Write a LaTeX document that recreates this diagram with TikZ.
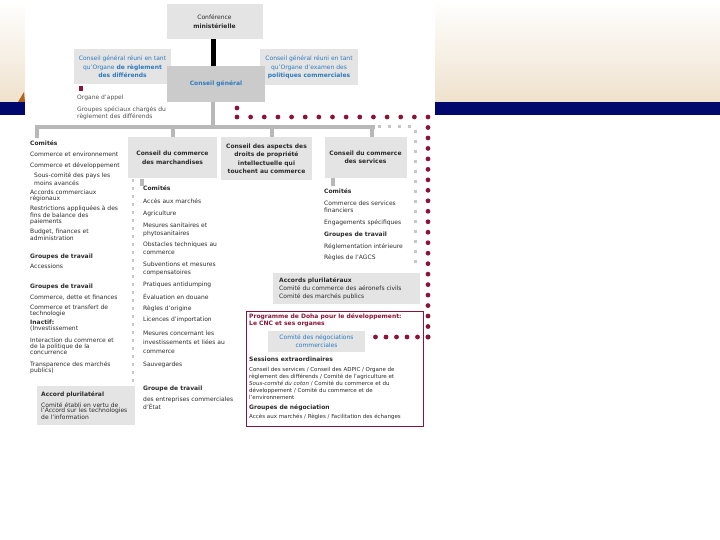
\documentclass[tikz,border=0pt]{standalone}
\usepackage{fontspec}
\setmainfont{DejaVu Sans}
\definecolor{dred}{HTML}{8A1538}
\definecolor{wblue}{HTML}{2E7BBF}
\definecolor{txt}{HTML}{2B2B2B}
\definecolor{gtxt}{HTML}{505050}
\definecolor{gbox}{HTML}{E4E4E4}
\definecolor{gbox2}{HTML}{CBCBCB}
\definecolor{gline}{HTML}{B8B8B8}
\definecolor{gsq}{HTML}{C6C6C6}
\definecolor{navyband}{HTML}{00086E}
\definecolor{beige}{HTML}{EFE2CD}
\definecolor{ochre}{HTML}{B0641E}
\newcommand\ft{\fontsize{6}{6.5}\selectfont}
\newcommand\ftl{\fontsize{6}{5.8}\selectfont}
\newcommand\ftm{\fontsize{6}{7.5}\selectfont}
\newcommand\fts{\fontsize{5.5}{7}\selectfont}
\tikzset{
  box/.style={fill=gbox, inner sep=0pt, align=center, text=txt, font=\ft},
  lst/.style={anchor=north west, inner sep=0pt, align=left, text=txt, font=\ft},
  lstl/.style={lst, font=\ftl},
  lstm/.style={lst, font=\ftm},
  hd/.style={lst, font=\ft\bfseries},
  gtree/.style={draw=gline, line width=3.2pt},
  gsqline/.style={draw=gsq, line width=3pt, dash pattern=on 3pt off 7pt},
  gsqmid/.style={draw=gsq, line width=2.8pt, dash pattern=on 2.8pt off 5.2pt},
  rdots/.style={draw=dred, line width=4.8pt, line cap=round}
}
\begin{document}
\begin{tikzpicture}[x=1pt,y=-1pt]
\useasboundingbox (0,0) rectangle (720,540);
% slide background
\shade[top color=white, bottom color=beige] (0,0) rectangle (25,102);
\shade[top color=white, bottom color=beige] (435,0) rectangle (720,102);
\fill[navyband] (0,102) rectangle (25,115);
\fill[navyband] (435,102) rectangle (720,115);
\fill[ochre] (18,102) -- (24,92) -- (25,102) -- cycle;

% top level
\node[box, minimum width=96, minimum height=35] (conf) at (214.5,21.5) {Conférence\\[3pt]\textbf{ministérielle}};
\node[box, minimum width=97, minimum height=35, text=wblue] (osd) at (122.5,66.5) {Conseil général réuni en tant\\[2pt]qu'Organe \textbf{de règlement}\\[1.5pt]\textbf{des différends}};
\node[box, minimum width=98, minimum height=36, text=wblue] (opr) at (309,67) {Conseil général réuni en tant\\[2pt]qu'Organe d'examen des\\[1.5pt]\textbf{politiques commerciales}};
\node[box, fill=gbox2, minimum width=98, minimum height=36, text=wblue, font=\ft\bfseries] (cg) at (216,84) {Conseil général};
\draw[black, line width=5pt] (conf.south -| 213.5,0) -- (cg.north -| 213.5,0);

% dispute settlement
\fill[dred] (79,86) rectangle (83,91);
\node[lst, text=gtxt] (oap) at (77,95) {Organe d'appel};
\node[lst, text=gtxt] (gsp) at (77,107) {Groupes spéciaux chargés du\\règlement des différends};

% grey tree
\coordinate (j0) at (213,127);
\coordinate (bL) at (37,127);
\coordinate (dM) at (173,127);
\coordinate (dA) at (272,127);
\coordinate (dS) at (372,127);
\coordinate (bE) at (375,127);

\node[box, minimum width=89, minimum height=41, font=\ft\bfseries] (march) at (172.5,158) {Conseil du commerce\\[2pt]des marchandises};
\node[box, minimum width=91, minimum height=43, font=\ft\bfseries] (adpic) at (266.5,159) {Conseil des aspects des\\[2pt]droits de propriété\\[2pt]intellectuelle qui\\[2pt]touchent au commerce};
\node[box, minimum width=82, minimum height=41, font=\ft\bfseries] (serv) at (365.5,157.5) {Conseil du commerce\\[2pt]des services};

\draw[gtree] (cg.south -| j0) -- (j0);
\draw[gtree] (37,138) -- (bL) -- (bE);
\draw[gtree] (dM) -- (dM |- march.north);
\draw[gtree] (dA) -- (dA |- adpic.north);
\draw[gtree] (dS) -- (dS |- serv.north);
\draw[gtree] ([xshift=-30.5pt]march.south) -- ++(0,7);
\draw[gtree] ([xshift=-32.5pt]serv.south) -- ++(0,8);
\draw[gsqline] (378,127) -- (415,127) -- (415,270);
\draw[gsqmid] (133,179) -- (133,395);

% left column
\node[hd] (lcom) at (30,141) {Comités};
\node[lst] (l1) at (30,152) {Commerce et environnement};
\node[lst] (l2) at (30,163) {Commerce et développement};
\node[lstl] (l3) at (34,173) {Sous-comité des pays les\\moins avancés};
\node[lstl] (l4) at (30,190) {Accords commerciaux\\régionaux};
\node[lstl] (l5) at (30,206) {Restrictions appliquées à des\\fins de balance des\\paiements};
\node[lstl] (l6) at (30,229) {Budget, finances et\\administration};
\node[hd] (lgt1) at (30,254) {Groupes de travail};
\node[lst] (l7) at (30,264) {Accessions};
\node[hd] (lgt2) at (30,284) {Groupes de travail};
\node[lst] (l8) at (30,295) {Commerce, dette et finances};
\node[lstl] (l9) at (30,305) {Commerce et transfert de\\technologie};
\node[lstl] (l10) at (30,320) {\textbf{Inactif:}\\(Investissement};
\node[lstl] (l11) at (30,338) {Interaction du commerce et\\de la politique de la\\concurrence};
\node[lstl] (l12) at (30,361) {Transparence des marchés\\publics)};
\node[box, anchor=north west, align=left, text width=90, inner xsep=4pt, inner ysep=3pt, minimum height=39, font=\ftl] (apl) at (37,386) {\textbf{Accord plurilatéral}\\[3.5pt]Comité établi en vertu de\\l'Accord sur les technologies\\de l'information};

% middle column
\node[hd] (mcom) at (143,186) {Comités};
\node[lst] (m1) at (143,199) {Accès aux marchés};
\node[lst] (m2) at (143,211) {Agriculture};
\node[lstm] (m3) at (143,223) {Mesures sanitaires et\\phytosanitaires};
\node[lstm] (m4) at (143,242) {Obstacles techniques au\\commerce};
\node[lstm] (m5) at (143,262) {Subventions et mesures\\compensatoires};
\node[lst] (m6) at (143,282) {Pratiques antidumping};
\node[lst] (m7) at (143,294) {Évaluation en douane};
\node[lst] (m8) at (143,306) {Règles d'origine};
\node[lst] (m9) at (143,317) {Licences d'importation};
\node[lst, font=\fontsize{6}{9}\selectfont] (m10) at (143,331) {Mesures concernant les\\investissements et liées au\\commerce};
\node[lst] (m11) at (143,362) {Sauvegardes};
\node[hd] (mgt) at (143,386) {Groupe de travail};
\node[lst] (m12) at (143,397) {des entreprises commerciales\\d'État};

% services column
\node[hd] (scom) at (324,189) {Comités};
\node[lst] (s1) at (324,201) {Commerce des services\\financiers};
\node[lst] (s2) at (324,220) {Engagements spécifiques};
\node[hd] (sgt) at (324,232) {Groupes de travail};
\node[lst] (s3) at (324,244) {Réglementation intérieure};
\node[lst] (s4) at (324,255) {Règles de l'AGCS};

% plurilateral agreements
\node[box, anchor=north west, align=left, text width=135, inner xsep=6pt, inner ysep=3.5pt, minimum height=31] (apl2) at (273,273) {\textbf{Accords plurilatéraux}\\[1.5pt]Comité du commerce des aéronefs civils\\[1.5pt]Comité des marchés publics};

% Doha
\node[draw=dred, fill=white, line width=0.8pt, minimum width=177, minimum height=115, anchor=north west, inner sep=0pt] (doha) at (246,311) {};
\node[hd, text=dred, font=\fontsize{6}{7}\bfseries\selectfont] (dt) at (249,313) {Programme de Doha pour le développement:\\Le CNC et ses organes};
\node[box, minimum width=97, minimum height=21, text=wblue] (cnc) at (316.5,341.5) {Comité des négociations\\[1.5pt]commerciales};
\node[hd] (se) at (249,357) {Sessions extraordinaires};
\node[lst, font=\fts] (sb) at (249,367) {Conseil des services / Conseil des ADPIC / Organe de\\règlement des différends / Comité de l'agriculture et\\\textit{Sous-comité du coton} / Comité du commerce et du\\développement / Comité du commerce et de\\l'environnement};
\node[hd] (gn) at (249,404) {Groupes de négociation};
\node[lst, font=\fts] (gb) at (249,414) {Accès aux marchés / Règles / Facilitation des échanges};

% red dotted link
\coordinate (r0) at (237,108);
\coordinate (r1) at (237,117);
\coordinate (r2) at (428,117);
\coordinate (r3) at (428,337);
\coordinate (r4) at (cnc.east |- r3);
\draw[rdots, dash pattern=on 0pt off 9pt] (r0) -- (r1);
\draw[rdots, dash pattern=on 0pt off 13.643pt] (r1) -- (r2);
\draw[rdots, dash pattern=on 0pt off 10.476pt] (r2) -- (r3);
\draw[rdots, dash pattern=on 0pt off 10.5pt] (r3) -- ([xshift=3pt]r4);
\end{tikzpicture}
\end{document}
